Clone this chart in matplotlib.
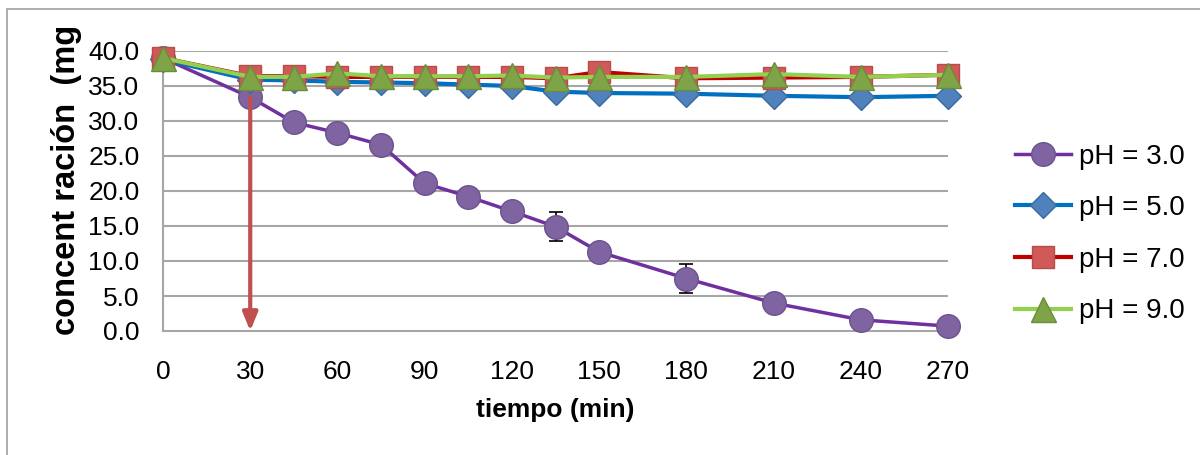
import matplotlib
matplotlib.use("Agg")
import matplotlib.pyplot as plt
from matplotlib.patches import Rectangle

plt.rcParams['font.family'] = ['Liberation Sans', 'DejaVu Sans']

# ---- data ----
times = [0, 30, 45, 60, 75, 90, 105, 120, 135, 150, 180, 210, 240, 270]
ph3 = [39.0, 33.4, 29.8, 28.3, 26.6, 21.1, 19.2, 17.1, 14.9, 11.3, 7.5, 4.0, 1.6, 0.7]
ph3_err = [0, 0, 0, 0, 0, 0, 0, 0, 2.1, 0, 2.1, 0, 0, 0]
ph5 = [38.8, 35.9, 35.8, 35.6, 35.5, 35.4, 35.2, 35.0, 34.2, 34.0, 33.9, 33.6, 33.4, 33.6]
ph7 = [39.0, 36.4, 36.4, 36.3, 36.3, 36.3, 36.3, 36.3, 36.1, 37.0, 36.1, 36.2, 36.3, 36.6]
ph9 = [39.0, 36.3, 36.3, 36.8, 36.4, 36.4, 36.4, 36.5, 36.2, 36.3, 36.3, 36.7, 36.3, 36.6]
labels = ['pH = 3.0', 'pH = 5.0', 'pH = 7.0', 'pH = 9.0']
xticks = [0, 30, 60, 90, 120, 150, 180, 210, 240, 270]
yticks = [0, 5, 10, 15, 20, 25, 30, 35, 40]

W, H = 1200, 455
fig = plt.figure(figsize=(W / 100, H / 100), dpi=100)
ax = fig.add_axes([163 / W, 1 - 331 / H, (948 - 163) / W, (331 - 51) / H])

grid_c = '#A6A6A6'
for yv in yticks[1:]:
    ax.axhline(yv, color=grid_c, lw=1.5, zorder=0)

ax.errorbar(times, ph3, yerr=ph3_err, fmt='none', ecolor='black', elinewidth=1.2,
            capsize=5, capthick=1.2, zorder=2)
ax.plot(times, ph3, color='#7030A0', lw=2.5, marker='o', ms=17,
        mfc='#8064A2', mec='#6B5290', mew=1, label=labels[0], zorder=3, clip_on=False)
ax.plot(times, ph5, color='#0070C0', lw=3, marker='D', ms=13,
        mfc='#4F81BD', mec='#3C6A9F', mew=1, label=labels[1], zorder=4, clip_on=False)
ax.plot(times, ph7, color='#C00000', lw=3, marker='s', ms=16,
        mfc='#D05A57', mec='#B84C49', mew=1, label=labels[2], zorder=5, clip_on=False)
ax.plot(times, ph9, color='#92D050', lw=3, marker='^', ms=18,
        mfc='#7FA447', mec='#6C8C3A', mew=1, label=labels[3], zorder=6, clip_on=False)

# red arrow at 30 min
ax.annotate('', xy=(times[1], 0), xytext=(times[1], ph3[1]),
            arrowprops=dict(arrowstyle='-|>,head_width=0.45,head_length=1.1',
                            color='#C0504D', lw=3, shrinkA=0, shrinkB=0),
            zorder=7, annotation_clip=False)

ax.set_xlim(0, 270)
ax.set_ylim(0, 40)
ax.set_xticks(xticks)
ax.set_yticks(yticks)
ax.set_yticklabels([f'{v:.1f}' for v in yticks])
ax.tick_params(axis='both', length=0, labelsize=19)
ax.tick_params(axis='y', pad=17)
ax.tick_params(axis='x', pad=21)
for s in ['top', 'right']:
    ax.spines[s].set_visible(False)
for s in ['left', 'bottom']:
    ax.spines[s].set_color(grid_c)
    ax.spines[s].set_linewidth(1.5)
ax.set_facecolor('none')

ax.set_xlabel('tiempo (min)', fontsize=19, fontweight='bold', labelpad=10)

# y label (the visible part of the original, which is cut at the top)
fig.text(67 / W, 1 - 335 / H, 'concent ración  (mg', rotation=90,
         fontsize=23.5, fontweight='bold', ha='center', va='bottom')

leg = fig.legend(loc='center left', bbox_to_anchor=(1004 / W, 1 - 234 / H),
                 frameon=False, fontsize=20, handlelength=2.0, handletextpad=0.3,
                 labelspacing=0.92, borderaxespad=0)

# outer chart frame
fig.patches.append(Rectangle((7 / W, -0.1), 1.2, 1.1 - 9 / H, transform=fig.transFigure,
                             fill=False, ec='#A0A0A0', lw=1.2, zorder=0))

fig.savefig('out.png', dpi=100)
